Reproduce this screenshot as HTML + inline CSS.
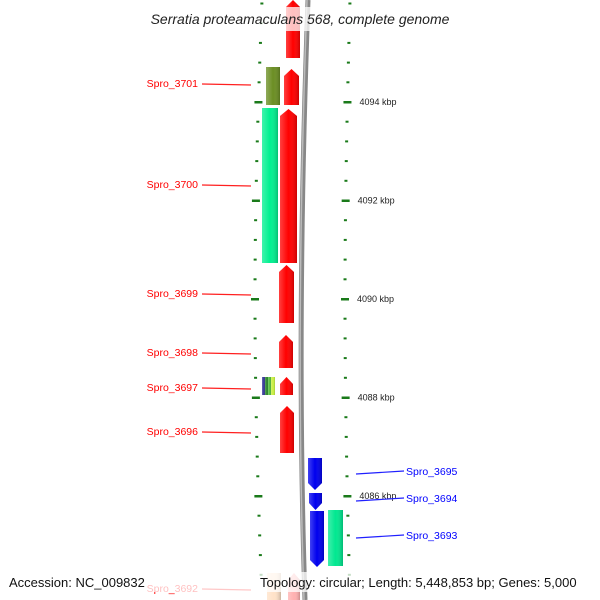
<!DOCTYPE html>
<html><head><meta charset="utf-8"><style>
body{margin:0;background:#fff}
svg{display:block;font-family:"Liberation Sans","DejaVu Sans",sans-serif}
</style></head><body>
<svg id="map" width="600" height="600" viewBox="0 0 600 600">
<defs>
<linearGradient id="sh" x1="0" x2="1"><stop offset="0" stop-color="#fff" stop-opacity="0.25"/><stop offset="0.5" stop-color="#fff" stop-opacity="0"/><stop offset="1" stop-color="#000" stop-opacity="0.2"/></linearGradient>
</defs>
<path d="M308,0 Q296,330 305,600" stroke="#888" stroke-width="5" fill="none"/>
<path d="M307,0 Q295,330 304,600" stroke="#bbb" stroke-width="1.5" fill="none"/>
<g id="ticks"></g>
<g id="genes"></g>
<g id="labels"></g>
<rect x="130" y="7" width="340" height="24" fill="#fff" opacity="0.75"/>
<text x="300" y="24" text-anchor="middle" font-size="14" font-style="italic" fill="#222">Serratia proteamaculans 568, complete genome</text>
<rect x="0" y="572" width="600" height="20" fill="#fff" opacity="0.75"/>
<text x="9" y="587" font-size="13" fill="#111">Accession: NC_009832</text>
<text x="260" y="587" font-size="13" fill="#111">Topology: circular; Length: 5,448,853 bp; Genes: 5,000</text>
</svg>
<script>
const NS="http://www.w3.org/2000/svg";
// kbp tick labels and positions (kbp values)
const majorKbp=[4094,4092,4090,4088,4086];
const minorStep=0.4;
// genes: [y0,y1,x0,x1,color,direction]
const geneTop=[0,69,109,265,335,377,406,458,493,511,510,573,573];
const geneBot=[58,105,263,323,368,395,453,490,510,567,566,600,600];
const geneX0=[286,284,280,279,279,280,280,308,309,310,328,288,267];
const geneX1=[300,299,297,294,293,293,294,322,322,324,343,300,281];
const geneColor=["#ff0000","#ff0000","#ff0000","#ff0000","#ff0000","#ff0000","#ff0000","#0000ee","#0000ee","#0000ee","#00e890","#ffb0b0","#ffe2c8"];
const geneDir=[1,1,1,1,1,1,1,-1,-1,-1,0,1,0];
const geneNames=["gene-top","gene-3701-fwd","gene-3700-fwd","gene-3699","gene-3698","gene-3697-fwd","gene-3696","gene-3695","gene-3694","gene-3693","gene-3693-cds","gene-3692","gene-3692-cds"];
const leftLabels=["Spro_3701","Spro_3700","Spro_3699","Spro_3698","Spro_3697","Spro_3696","Spro_3692"];
const leftLabelY=[83,184,293,352,387,431,588];
const rightLabels=["Spro_3695","Spro_3694","Spro_3693"];
const rightLabelY=[471,498,535];
function yOf(k){return 102+(4094-k)*49.25;}
function lx(y){return 262-7*Math.sin(Math.PI*y/600);}
function rx(y){return 350-5*Math.sin(Math.PI*y/600);}
function mk(t,a,p){const e=document.createElementNS(NS,t);for(const k in a)e.setAttribute(k,a[k]);(p||document.getElementById('map')).appendChild(e);return e;}
const tg=document.getElementById('ticks');
for(let k=4094+minorStep*5;k>4085-1;k-=minorStep){
  const y=yOf(k);if(y<-2||y>602)continue;
  const maj=majorKbp.some(m=>Math.abs(m-k)<0.01);
  const w=maj?8:3;
  const l=mk('rect',{x:lx(y)-w/2,y:y-1,width:w,height:maj?2.5:2,fill:"#1a7a1a"},tg);
  
  
  const r=mk('rect',{x:rx(y)-w/2,y:y-1,width:w,height:maj?2.5:2,fill:"#1a7a1a"},tg);
  
  
}
majorKbp.forEach(m=>{
  const t=mk('text',{x:rx(yOf(m))+12,y:yOf(m)+3,'font-size':9,fill:"#222"},tg);
  t.textContent=m+" kbp";
  
  
});
const gg=document.getElementById('genes');
geneTop.forEach((y0,i)=>{
  const y1=geneBot[i],x0=geneX0[i],x1=geneX1[i],d=geneDir[i],h=7;
  let pts;
  if(d===1)pts=[[x0,y0+h],[(x0+x1)/2,y0],[x1,y0+h],[x1,y1],[x0,y1]];
  else if(d===-1)pts=[[x0,y0],[x1,y0],[x1,y1-h],[(x0+x1)/2,y1],[x0,y1-h]];
  else pts=[[x0,y0],[x1,y0],[x1,y1],[x0,y1]];
  const s=pts.map(p=>p.join(',')).join(' ');
  const p=mk('polygon',{points:s,fill:geneColor[i]},gg);
  
  
  mk('polygon',{points:s,fill:"url(#sh)"},gg);
});
// olive + green reverse-strand blocks for 3701/3700, and 3697 multicolour
const blockX0=[266,262,262,265,268,271];
const blockX1=[280,278,265,268,271,275];
const blockTop=[67,108,377,377,377,377];
const blockBot=[105,263,395,395,395,395];
const blockColor=["#6b8e23","#00f090","#3a3a9a","#2e8b2e","#55c040","#c8f040"];
blockX0.forEach((x0,i)=>{
  const r=mk('rect',{x:x0,y:blockTop[i],width:blockX1[i]-x0,height:blockBot[i]-blockTop[i],fill:blockColor[i]},gg);
  
  
  mk('rect',{x:x0,y:blockTop[i],width:blockX1[i]-x0,height:blockBot[i]-blockTop[i],fill:"url(#sh)"},gg);
});
const lg=document.getElementById('labels');
leftLabels.forEach((n,i)=>{
  const y=leftLabelY[i];
  const ln=mk('line',{x1:202,y1:y+1,x2:251,y2:y+2,stroke:"#ff2020","stroke-width":1.2},lg);
  
  
  const t=mk('text',{x:198,y:y+4,'text-anchor':'end','font-size':10.5,fill:"#ff0000"},lg);
  t.textContent=n;
  
  
});
rightLabels.forEach((n,i)=>{
  const y=rightLabelY[i];
  const ln=mk('line',{x1:356,y1:y+3,x2:404,y2:y,stroke:"#2020ff","stroke-width":1.2},lg);
  
  
  const t=mk('text',{x:406,y:y+4,'font-size':10.5,fill:"#0000ff"},lg);
  t.textContent=n;
  
  
});
</script>
</body></html>
